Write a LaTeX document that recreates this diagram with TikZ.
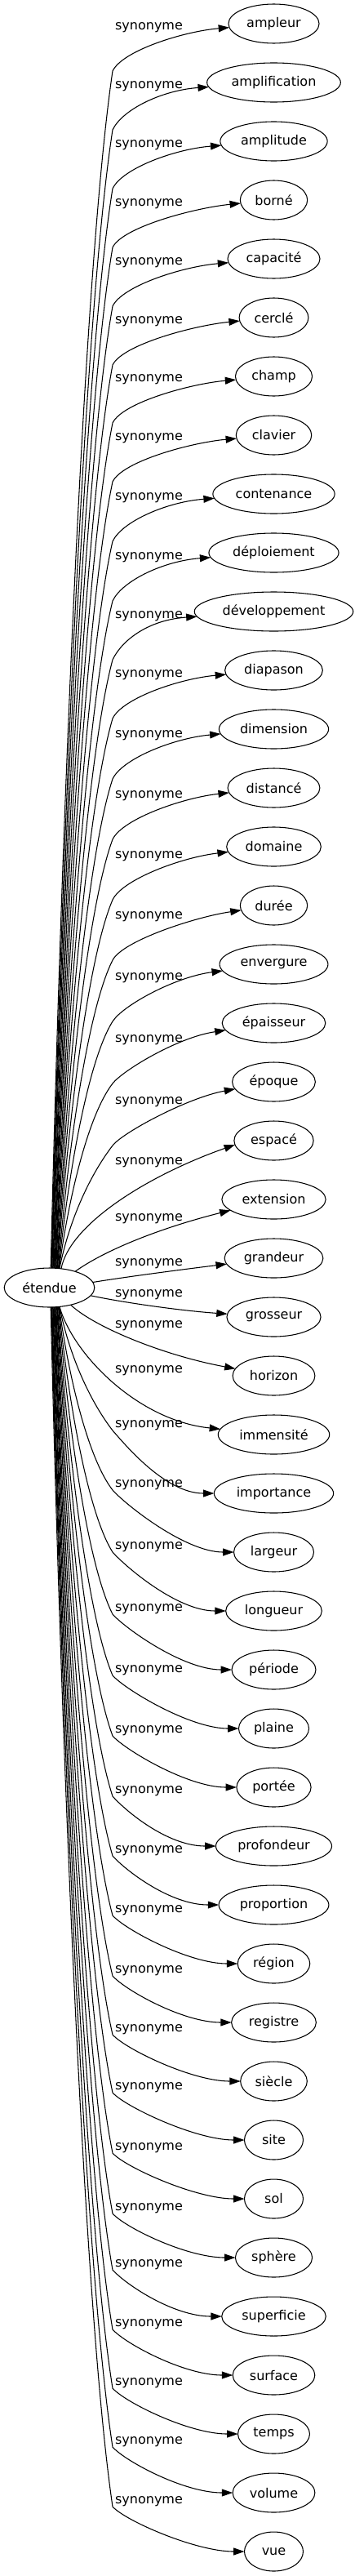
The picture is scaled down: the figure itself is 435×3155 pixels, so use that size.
\documentclass[tikz,border=0pt]{standalone}
\usepackage{fontspec}
\setmainfont{DejaVu Sans}
\usetikzlibrary{shapes.geometric,arrows.meta,calc}
\begin{document}
\begin{tikzpicture}[x=0.75pt,y=-0.75pt,
  word/.style={draw, ellipse, line width=0.8pt, inner xsep=4.5pt, inner ysep=1pt,
    minimum height=36pt, minimum width=54pt, outer sep=0pt,
    font=\fontsize{12pt}{14pt}\selectfont},
  rel/.style={inner sep=0pt, anchor=base, font=\fontsize{12pt}{14pt}\selectfont},
  edge/.style={line width=0.8pt, -{Triangle[length=10pt,width=6.7pt]}}]
\useasboundingbox (0,0) rectangle (435,3155);
\node[word] (e) at (60.5,1577) {étendue};
\foreach \i/\w/\ly in {0/ampleur/32,1/amplification/104,2/amplitude/176,3/borné/248,
  4/capacité/320,5/cerclé/392,6/champ/463,7/clavier/535,8/contenance/608,
  9/déploiement/681,10/développement/753,11/diapason/825,12/dimension/899,
  13/distancé/973,14/domaine/1047,15/durée/1121,16/envergure/1196,
  17/épaisseur/1272,18/époque/1348,19/espacé/1422,20/extension/1491,
  21/grandeur/1546,22/grosseur/1584,23/horizon/1622,24/immensité/1677,
  25/importance/1744,26/largeur/1817,27/longueur/1893,28/période/1969,
  29/plaine/2044,30/portée/2118,31/profondeur/2192,32/proportion/2265,
  33/région/2338,34/registre/2412,35/siècle/2484,36/site/2555,37/sol/2629,
  38/sphère/2703,39/superficie/2772,40/surface/2845,41/temps/2917,
  42/volume/2989,43/vue/3062}{
  \node[word] (t\i) at (335.5,{29+72*\i}) {\w};
  \node[rel] (l\i) at (182.5,{\ly+4.5}) {synonyme};
}
% upper family
\foreach \i/\ly in {0/32,1/104,2/176,3/248,4/320,5/392,6/463,7/535,8/608,
  9/681,10/753,11/825,12/899,13/973,14/1047,15/1121,16/1196,17/1272,18/1348}{
  \pgfmathsetmacro\qxs{62+0.6*\i}
  \pgfmathtruncatemacro\qang{atan2(24*sqrt(1-((\qxs-60.5)/56.5)^2),\qxs-60.5)}
  \pgfmathsetmacro\qky{\ly+55}
  \pgfmathsetmacro\qdy{1553-\qky}
  \pgfmathsetmacro\qax{\qxs+0.17*(138-\qxs)}
  \pgfmathsetmacro\qay{1553-0.36*\qdy}
  \pgfmathsetmacro\qvx{0.47*(138-\qxs)}
  \pgfmathsetmacro\qvy{max(0.165*\qdy,40)}
  \pgfmathsetmacro\qbx{138-\qvx}
  \pgfmathsetmacro\qby{\qky+\qvy}
  \pgfmathsetmacro\qcy{\qky-12*min(25/12,\qvy/\qvx)}
  \pgfmathsetmacro\qny{29+72*\i}
  \pgfmathsetmacro\qoff{(\ly-\qny)/2+8}
  \draw[edge] (e.\qang) .. controls (\qax,\qay) and (\qbx,\qby) .. (138,\qky)
    .. controls (150,\qcy) and ($(t\i.west)+(-55,\qoff)$) .. (t\i);
}
% middle edges
\draw[edge] (e.58) .. controls (85,1500) and (180,1440) .. (t19.186);
\draw[edge] (e.32) .. controls (130,1530) and (200,1503) .. (t20);
\draw[edge] (e.7) .. controls (160,1563) and (230,1554) .. (t21);
\draw[edge] (e.-11) .. controls (160,1597) and (230,1606) .. (t22);
\draw[edge] (e.-39) .. controls (115,1625) and (200,1660) .. (t23);
\draw[edge] (e.-62) .. controls (90,1660) and (170,1740) .. (t24);
% lower family
\foreach \i/\ly in {25/1744,26/1817,27/1893,28/1969,29/2044,30/2118,31/2192,
  32/2265,33/2338,34/2412,35/2484,36/2555,37/2629,38/2703,39/2772,40/2845,
  41/2917,42/2989,43/3062}{
  \pgfmathsetmacro\qxs{62+0.6*(43-\i)}
  \pgfmathtruncatemacro\qang{-atan2(24*sqrt(1-((\qxs-60.5)/56.5)^2),\qxs-60.5)}
  \pgfmathsetmacro\qky{\ly+8}
  \pgfmathsetmacro\qdy{\qky-1601}
  \pgfmathsetmacro\qax{\qxs+0.17*(138-\qxs)}
  \pgfmathsetmacro\qay{1601+0.36*\qdy}
  \pgfmathsetmacro\qvx{0.47*(138-\qxs)}
  \pgfmathsetmacro\qvy{max(0.165*\qdy,40)}
  \pgfmathsetmacro\qbx{138-\qvx}
  \pgfmathsetmacro\qby{\qky-\qvy}
  \pgfmathsetmacro\qcy{\qky+15*min(17/15,\qvy/\qvx)}
  \draw[edge] (e.\qang) .. controls (\qax,\qay) and (\qbx,\qby) .. (138,\qky)
    .. controls (153,\qcy) and ($(t\i.west)+(-60,0)$) .. (t\i);
}
\end{tikzpicture}
\end{document}
